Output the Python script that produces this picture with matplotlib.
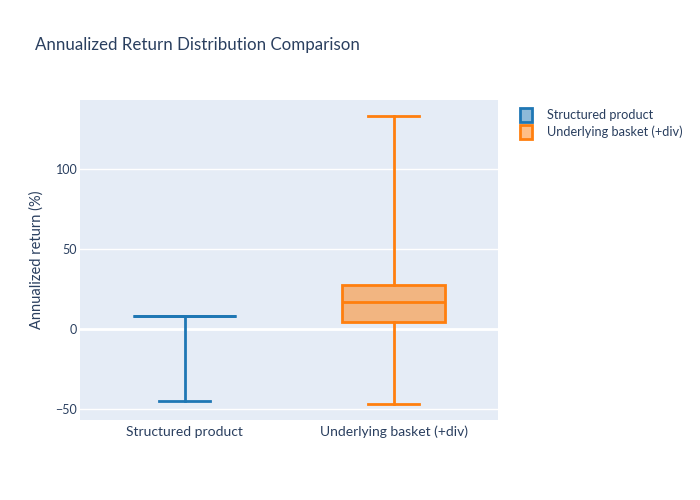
import matplotlib.pyplot as plt
from matplotlib.patches import Patch

categories = ["Structured product", "Underlying basket (+div)"]
lows = [-45.0, -46.7]
q1s = [8.1, 4.2]
medians = [8.1, 16.7]
q3s = [8.1, 27.5]
highs = [8.1, 133.3]
colors = ["#1f77b4", "#ff7f0e"]

plt.rcParams['font.family'] = ['Lato', 'DejaVu Sans']
TEXT = "#2a3f5f"

fig = plt.figure(figsize=(7, 5), dpi=100)
ax = fig.add_axes([80 / 700, 80 / 500, 418 / 700, 320 / 500])
ax.set_facecolor("#e5ecf6")

stats = []
for i in range(len(categories)):
    stats.append({"med": medians[i], "q1": q1s[i], "q3": q3s[i],
                  "whislo": lows[i], "whishi": highs[i], "fliers": []})

for i, st in enumerate(stats):
    c = colors[i]
    ax.bxp([st], positions=[i], widths=0.49, patch_artist=True,
           showfliers=False, capwidths=0.245,
           boxprops=dict(facecolor=c + "80", edgecolor=c, linewidth=2),
           medianprops=dict(color=c, linewidth=2),
           whiskerprops=dict(color=c, linewidth=2),
           capprops=dict(color=c, linewidth=2), zorder=3)

ax.set_xlim(-0.5, 1.5)
ax.set_ylim(-57, 143)
ax.set_yticks([-50, 0, 50, 100])
ax.set_yticklabels(["\u221250", "0", "50", "100"])
ax.set_xticks(range(len(categories)))
ax.set_xticklabels(categories)
ax.grid(axis="y", color="white", linewidth=1)
ax.axhline(0, color="white", linewidth=2, zorder=1)
ax.set_axisbelow(True)
for s in ax.spines.values():
    s.set_visible(False)
ax.tick_params(length=0, labelsize=9, labelcolor=TEXT)
ax.tick_params(axis="x", pad=4, labelsize=10)
ax.tick_params(axis="y", pad=2)
ax.set_ylabel("Annualized return (%)", fontsize=10.5, color=TEXT)
ax.yaxis.set_label_coords(-36 / 418, 0.5)

fig.text(35 / 700, 1 - 45 / 500, "Annualized Return Distribution Comparison",
         fontsize=12.2, color=TEXT, va="center", ha="left")

handles = [Patch(facecolor=c + "80", edgecolor=c, linewidth=2) for c in colors]
fig.legend(handles, categories, loc="upper left", bbox_to_anchor=(520 / 700, 1 - 108 / 500),
           frameon=False, fontsize=9.2, handlelength=0.95, handleheight=1.25,
           handletextpad=1.15, labelspacing=0.3, labelcolor=TEXT, borderaxespad=0,
           borderpad=0)

fig.savefig("out.png", dpi=100)
